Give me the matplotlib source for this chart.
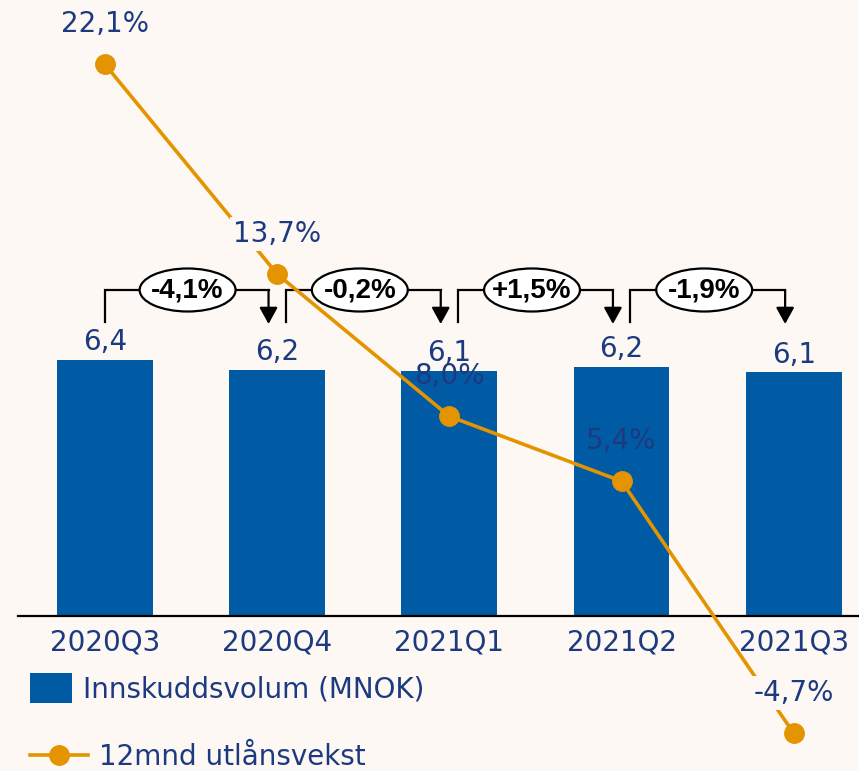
import matplotlib.pyplot as plt
from matplotlib.patches import Ellipse, Patch
from matplotlib.lines import Line2D

# data
quarters = ['2020Q3', '2020Q4', '2021Q1', '2021Q2', '2021Q3']
deposits = [6.40, 6.16, 6.13, 6.22, 6.09]      # Innskuddsvolum (MNOK)
loan_growth = [22.1, 13.7, 8.0, 5.4, -4.7]     # 12mnd utlånsvekst, %
changes = [-4.1, -0.2, 1.5, -1.9]              # change in deposits q/q, %

bg = '#FDF8F3'
navy = '#1C3A80'
blue = '#015BA4'
orange = '#E39400'

plt.rcParams['font.family'] = ['DejaVu Sans']

fig = plt.figure(figsize=(8.59, 7.71), dpi=100, facecolor=bg)
ax = fig.add_axes([18 / 859, 155 / 771, 841 / 859, 616 / 771])
ax.set_facecolor(bg)
x = list(range(len(quarters)))

# bars
ax.bar(x, deposits, width=0.557, color=blue, zorder=2)
for xi, v in zip(x, deposits):
    ax.annotate(f"{v:.1f}".replace('.', ','), (xi, v), xytext=(0, 7),
                textcoords='offset points', ha='center', va='baseline',
                fontsize=20, color=navy)

ax.set_xlim(-0.505, 4.379)
ax.set_ylim(0, 15.4)
ax.set_xticks(x)
ax.set_xticklabels(quarters, fontsize=20, color=navy)
ax.tick_params(axis='x', length=0, pad=9)
ax.set_yticks([])
for s in ['top', 'left', 'right']:
    ax.spines[s].set_visible(False)
ax.spines['bottom'].set_linewidth(1.6)
ax.spines['bottom'].set_color('black')

# change brackets between bars
y_top, y_bot = 8.15, 7.35
for i, c in enumerate(changes):
    xl, xr = i + (0.0 if i == 0 else 0.05), i + 1 - 0.05
    ax.plot([xl, xl, xr], [y_bot, y_top, y_top], color='black', lw=1.6,
            solid_joinstyle='miter', zorder=3)
    ax.annotate('', xy=(xr, y_bot - 0.05), xytext=(xr, y_top),
                arrowprops=dict(arrowstyle='-|>,head_width=0.55,head_length=1.0',
                                color='black', lw=1.6, shrinkA=0, shrinkB=0),
                zorder=3)
    ax.add_patch(Ellipse((i + 0.48, y_top), 0.557, 1.075, facecolor='white',
                         edgecolor='black', lw=1.6, zorder=4))
    ax.text(i + 0.48, y_top, f"{c:+.1f}%".replace('.', ','), ha='center',
            va='center', fontsize=20, fontweight='bold', color='black',
            family='Liberation Sans', zorder=5)

# loan growth line on secondary axis
ax2 = ax.twinx()
ax2.set_ylim(0, 24.68)
ax2.set_yticks([])
for s in ax2.spines.values():
    s.set_visible(False)
ax2.plot(x, loan_growth, color=orange, lw=2.6, marker='o', markersize=14,
         clip_on=False, zorder=3)
masked = [True, True, False, False, True]
for xi, v, m in zip(x, loan_growth, masked):
    box = dict(boxstyle='square,pad=0.1', facecolor=bg, edgecolor='none') if m else None
    ax2.annotate(f"{v:.1f}%".replace('.', ','), (xi, v), xytext=(0, 29),
                 textcoords='offset points', ha='center', va='center',
                 fontsize=20, color=navy, bbox=box, annotation_clip=False,
                 zorder=4)

# legends
fig.legend(handles=[Patch(facecolor=blue, edgecolor='none')],
           labels=['Innskuddsvolum (MNOK)'], loc='center left',
           bbox_to_anchor=(30 / 859, 83 / 771), frameon=False,
           fontsize=20, handlelength=1.5, handleheight=1.3,
           handletextpad=0.4, borderpad=0, borderaxespad=0,
           labelcolor=navy)
fig.legend(handles=[Line2D([], [], color=orange, lw=2.6, marker='o',
                           markersize=14)],
           labels=['12mnd utlånsvekst'], loc='center left',
           bbox_to_anchor=(30 / 859, 14 / 771), frameon=False,
           fontsize=20, handlelength=2.1, handletextpad=0.4,
           borderpad=0, borderaxespad=0, labelcolor=navy)

fig.savefig('out.png', dpi=100, facecolor=bg)
